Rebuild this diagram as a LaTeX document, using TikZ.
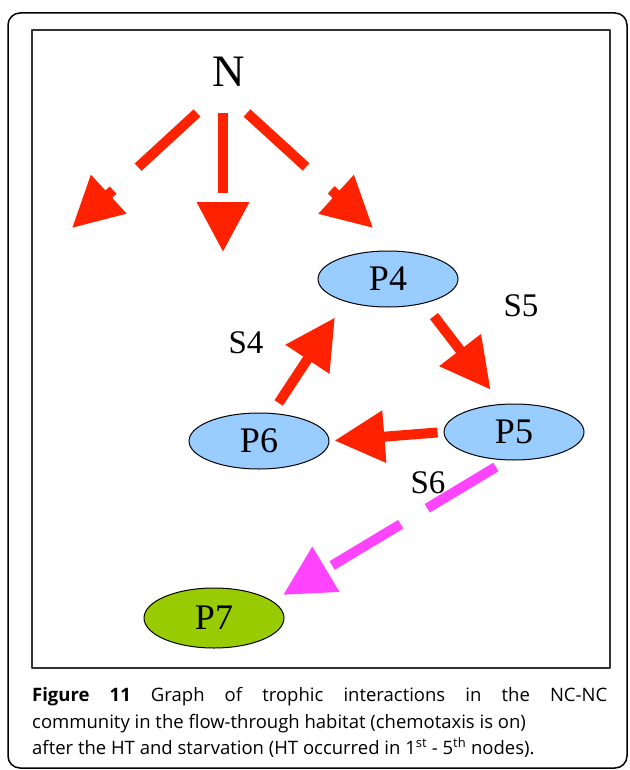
\documentclass[tikz,border=0pt]{standalone}
\usepackage{fontspec}
\setmainfont{Liberation Serif}
\newfontfamily\capfont{Open Sans}
\usetikzlibrary{arrows.meta,shapes.geometric}
\definecolor{arrred}{RGB}{255,34,0}
\definecolor{arrmag}{RGB}{255,68,255}
\definecolor{popblue}{RGB}{153,204,255}
\definecolor{popgreen}{RGB}{153,204,0}
\begin{document}
\begin{tikzpicture}[x=1pt,y=-1pt,line join=round,
	pop/.style={ellipse,draw=black,line width=1pt,minimum width=140pt,
		minimum height=56pt,inner sep=0pt,font=\fontsize{36}{36}\selectfont},
	lab/.style={font=\fontsize{33}{33}\selectfont},
	fw/.style={draw=arrred,line width=10pt,-{Triangle[length=50pt,width=50pt]}},
	dsh/.style={dash pattern=on 80pt off 34pt}]
	\useasboundingbox (0,0) rectangle (629,770);
	% frames
	\draw[line width=1.5pt,rounded corners=12pt] (8,13) rectangle (627,768);
	\draw[line width=2pt,draw=black!80] (32,30) rectangle (610,668);
	% nutrient and populations
	\node[font=\fontsize{45}{45}\selectfont,inner sep=0pt,anchor=base] (N) at (229,87) {N};
	\coordinate (t1) at (72,228);
	\coordinate (t2) at (223,252);
	\coordinate (t3) at (373,228);
	\node[pop,fill=popblue] (P4) at (388,279) {P4};
	\node[pop,fill=popblue] (P5) at (514,432) {P5};
	\node[pop,fill=popblue] (P6) at (259,441) {P6};
	\node[pop,fill=popgreen,minimum height=60pt] (P7) at (214,618) {P7};
	% flows
	\draw[fw,dsh] ([shift={(-32,26)}]N.base) -- (t1);
	\draw[fw,dsh] ([shift={(-6,26)}]N.base) -- (t2);
	\draw[fw,dsh] ([shift={(18,26)}]N.base) -- (t3);
	\draw[fw,shorten <=16pt,shorten >=18pt] (P4.-34) -- (P5.114);
	\draw[fw,shorten <=12pt,shorten >=19pt] (P6.65) -- (P4.208);
	\draw[fw,shorten <=6pt,shorten >=5pt] (P5.west) -- (P6.east);
	\draw[fw,draw=arrmag,dash pattern=on 80pt off 31pt,shorten <=13pt,shorten >=12pt] (P5.256) -- (P7.16);
	\node[lab] (S4) at (246,343) {S4};
	\node[lab] (S5) at (521,306) {S5};
	\node[lab] (S6) at (428,483) {S6};
	% caption
	\begin{scope}[every node/.style={anchor=base west,inner sep=0pt,font=\capfont\fontsize{18.5}{18.5}\selectfont}]
		\node (cap1) at (32,701) {\makebox[575pt][s]{\textbf{Figure 11} Graph of trophic interactions in the NC-NC}};
		\node (cap2) at (32,728) {community in the flow-through habitat (chemotaxis is on)};
		\node (cap3) at (32,754) {after the HT and starvation (HT occurred in 1\textsuperscript{st} - 5\textsuperscript{th} nodes).};
	\end{scope}
\end{tikzpicture}
\end{document}
